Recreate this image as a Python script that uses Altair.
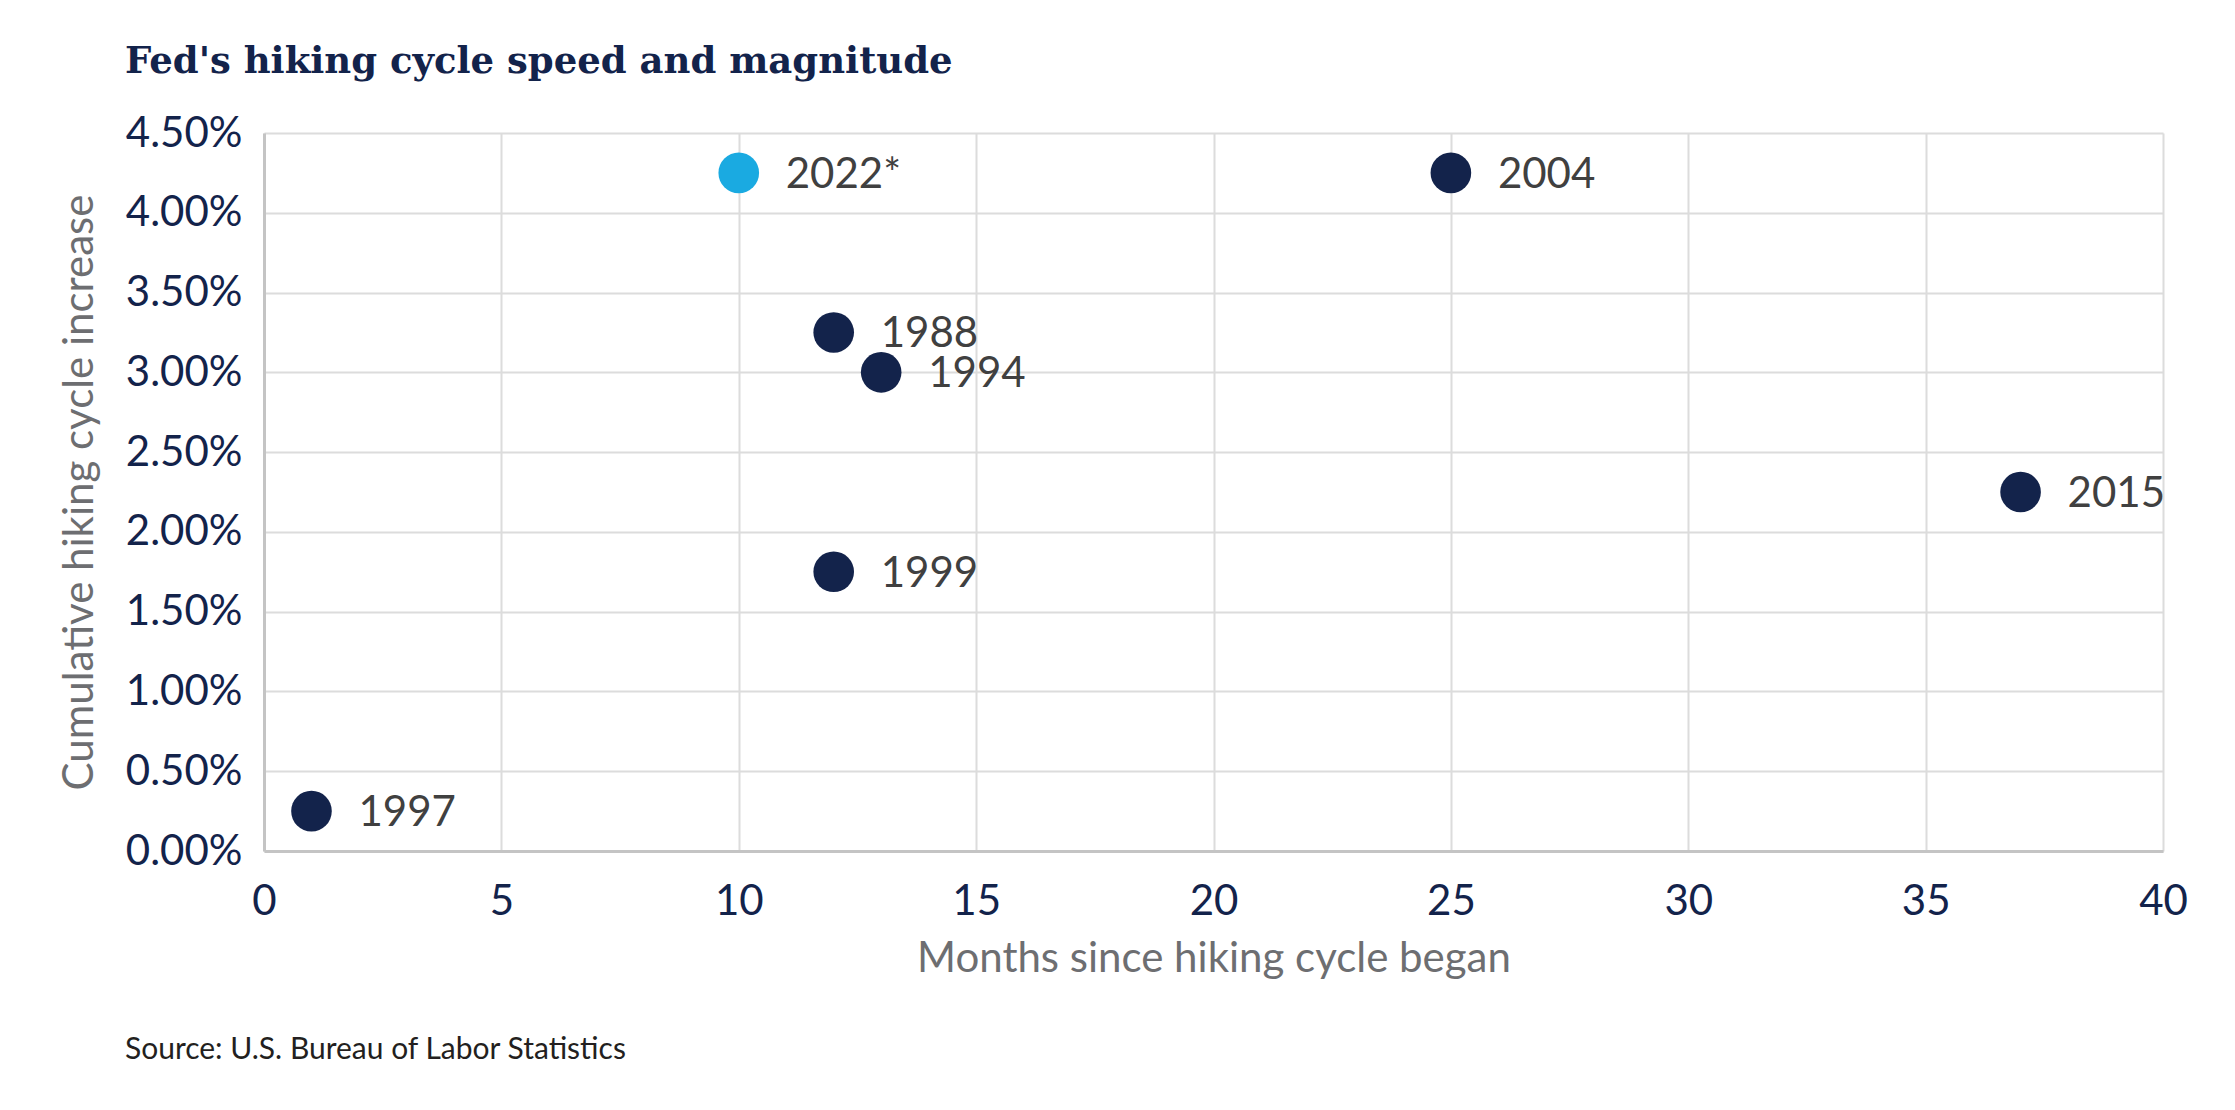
import altair as alt
import pandas as pd

years = ["1997", "2022*", "1988", "1994", "1999", "2004", "2015"]
months = [1, 10, 12, 13, 12, 25, 37]
increase = [0.25, 4.25, 3.25, 3.00, 1.75, 4.25, 2.25]
is_current = [False, True, False, False, False, False, False]

x_ticks = [0, 5, 10, 15, 20, 25, 30, 35, 40]
y_ticks = [0, 0.5, 1.0, 1.5, 2.0, 2.5, 3.0, 3.5, 4.0, 4.5]

df = pd.DataFrame({"year": years, "months": months, "inc": increase, "cur": is_current})

NAVY = "#13234b"
W, H = 1899, 718

x = alt.X("months:Q", scale=alt.Scale(domain=[0, 40], nice=False),
          axis=alt.Axis(values=x_ticks, title="Months since hiking cycle began",
                        labelPadding=30, titlePadding=16, labelFlush=False))
y = alt.Y("inc:Q", scale=alt.Scale(domain=[0, 4.5], nice=False),
          axis=alt.Axis(values=y_ticks, title="Cumulative hiking cycle increase",
                        labelExpr="format(datum.value, '.2f') + '%'",
                        labelPadding=22, titlePadding=24, labelFlush=False))

points = alt.Chart(df).mark_circle(size=1650, opacity=1).encode(
    x=x, y=y,
    color=alt.Color("cur:N", scale=alt.Scale(domain=[False, True], range=[NAVY, "#1aaae1"]), legend=None),
)

labels = alt.Chart(df).mark_text(align="left", baseline="middle", dx=47, dy=2,
                                 font="Lato", fontSize=42, color="#404040").encode(
    x="months:Q", y="inc:Q", text="year:N")

source = alt.Chart(pd.DataFrame({"t": ["Source: U.S. Bureau of Labor Statistics"]})).mark_text(
    align="left", baseline="alphabetic", font="Lato", fontSize=30, color="#231f20"
).encode(x=alt.value(-139), y=alt.value(926), text="t:N")

chart = alt.layer(points, labels, source).properties(
    width=W, height=H,
    autosize=alt.AutoSizeParams(type="none"),
    padding={"left": 256, "top": 125, "right": 64, "bottom": 251},
    title=alt.TitleParams("Fed's hiking cycle speed and magnitude", anchor="start", frame="group",
                          dx=-139, offset=2, baseline="alphabetic",
                          font="DejaVu Serif", fontSize=37, fontWeight="bold", color=NAVY),
).configure_view(stroke=None).configure_axis(
    labelFont="Lato", labelFontSize=42, labelColor=NAVY,
    titleFont="Lato", titleFontSize=42, titleColor="#6d6e71", titleFontWeight="normal",
    gridColor="#dcdcdc", gridWidth=2, ticks=False,
    domainColor="#c4c4c4", domainWidth=3,
)

chart.save("out.html", embed_options={"renderer": "svg", "actions": False})
